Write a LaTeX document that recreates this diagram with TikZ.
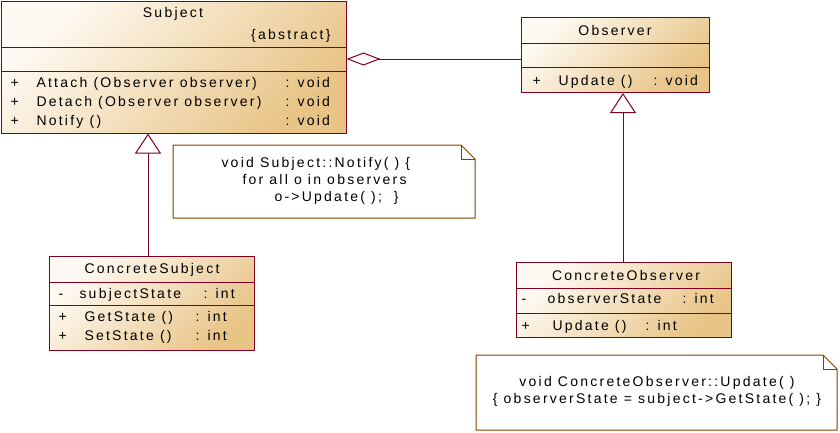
\documentclass[tikz,border=0pt]{standalone}
\usepackage{fontspec}
\setmainfont{Liberation Sans}[LetterSpace=16]
\usetikzlibrary{positioning,arrows.meta}
\definecolor{edge}{RGB}{128,0,32}
\definecolor{paper}{RGB}{254,250,243}
\definecolor{tan}{RGB}{232,196,134}
\definecolor{memo}{RGB}{128,64,0}

\begin{document}
\begin{tikzpicture}[x=1pt,y=-1pt,line width=1pt,
  cls/.style={draw=edge,top color=paper,bottom color=tan,shading angle=45,inner sep=0pt,anchor=north west},
  sep/.style={draw=edge},
  txt/.style={font=\fontsize{14}{17}\selectfont,inner sep=0pt,text=black},
  note/.style={inner sep=0pt,anchor=north west},
  agg/.style={draw=edge,-{Diamond[open,fill=white,length=34pt,width=13pt]}},
  gen/.style={draw=edge,-{Triangle[open,fill=white,length=20pt,width=26pt]}}
]
\useasboundingbox (0,0) rectangle (840,432);

% classes
\node[cls,minimum width=345pt,minimum height=132pt] (subj) at (0.5,0.5) {};
\node[cls,minimum width=188pt,minimum height=75pt] (obs) at (521,17) {};
\node[cls,minimum width=205pt,minimum height=94pt] (csubj) at (49,256) {};
\node[cls,minimum width=215pt,minimum height=75pt] (cobs) at (516,262) {};
\draw[sep] (subj.west |- 0,47) -- (subj.east |- 0,47);
\draw[sep] (subj.west |- 0,71) -- (subj.east |- 0,71);
\draw[sep] (obs.west |- 0,43) -- (obs.east |- 0,43);
\draw[sep] (obs.west |- 0,67) -- (obs.east |- 0,67);
\draw[sep] (csubj.west |- 0,282) -- (csubj.east |- 0,282);
\draw[sep] (csubj.west |- 0,305) -- (csubj.east |- 0,305);
\draw[sep] (cobs.west |- 0,288) -- (cobs.east |- 0,288);
\draw[sep] (cobs.west |- 0,313) -- (cobs.east |- 0,313);

% Subject
\node[txt,anchor=base] (subjname) at (173,17) {Subject};
\node[txt,anchor=base east] (subjabs) at (331,39) {\{abstract\}};
\node[txt,anchor=base west] (subjv1) at (10,87) {+};
\node[txt,anchor=base west] (subjop1) at (36,87) {Attach (Observer observer)};
\node[txt,anchor=base west] (subjt1) at (285,87) {: void};
\node[txt,anchor=base west] (subjv2) at (10,106) {+};
\node[txt,anchor=base west] (subjop2) at (36,106) {Detach (Observer observer)};
\node[txt,anchor=base west] (subjt2) at (285,106) {: void};
\node[txt,anchor=base west] (subjv3) at (10,125) {+};
\node[txt,anchor=base west] (subjop3) at (36,125) {Notify ()};
\node[txt,anchor=base west] (subjt3) at (285,125) {: void};

% Observer
\node[txt,anchor=base] (obsname) at (615,35) {Observer};
\node[txt,anchor=base west] (obsv1) at (532,85) {+};
\node[txt,anchor=base west] (obsop1) at (558,85) {Update ()};
\node[txt,anchor=base west] (obst1) at (653,85) {: void};

% ConcreteSubject
\node[txt,anchor=base] (csubjname) at (152,273) {ConcreteSubject};
\node[txt,anchor=base west] (csubjv1) at (58,298) {-};
\node[txt,anchor=base west] (csubjat1) at (79,298) {subjectState};
\node[txt,anchor=base west] (csubjt1) at (203,298) {: int};
\node[txt,anchor=base west] (csubjv2) at (58,321) {+};
\node[txt,anchor=base west] (csubjop2) at (84,321) {GetState ()};
\node[txt,anchor=base west] (csubjt2) at (195,321) {: int};
\node[txt,anchor=base west] (csubjv3) at (58,340) {+};
\node[txt,anchor=base west] (csubjop3) at (84,340) {SetState ()};
\node[txt,anchor=base west] (csubjt3) at (195,340) {: int};

% ConcreteObserver
\node[txt,anchor=base] (cobsname) at (626,280) {ConcreteObserver};
\node[txt,anchor=base west] (cobsv1) at (521,303) {-};
\node[txt,anchor=base west] (cobsat1) at (547,303) {observerState};
\node[txt,anchor=base west] (cobst1) at (682,303) {: int};
\node[txt,anchor=base west] (cobsv2) at (521,330) {+};
\node[txt,anchor=base west] (cobsop2) at (552,330) {Update ()};
\node[txt,anchor=base west] (cobst2) at (645,330) {: int};

% notes
\node[note,minimum width=301pt,minimum height=72pt] (notify) at (173,145) {};
\draw[memo] (notify.south west) -- (notify.north west) -- ([xshift=-14pt]notify.north east)
  -- ([yshift=-14pt]notify.north east) -- (notify.south east) -- cycle;
\draw[memo] ([xshift=-14pt]notify.north east) |- ([yshift=-14pt]notify.north east);
\node[txt,anchor=north west,align=left] (notifytxt) at (221,157)
  {void Subject::Notify( ) \{\\ \hspace*{21pt}for all o in observers\\ \hspace*{53pt}o->Update( );\hspace{12pt}\}};

\node[note,minimum width=360pt,minimum height=74pt] (update) at (476,355) {};
\draw[memo] (update.south west) -- (update.north west) -- ([xshift=-14pt]update.north east)
  -- ([yshift=-14pt]update.north east) -- (update.south east) -- cycle;
\draw[memo] ([xshift=-14pt]update.north east) |- ([yshift=-14pt]update.north east);
\node[txt,align=center] (updatetxt) at (657,391)
  {void ConcreteObserver::Update( )\\ \{ observerState = subject->GetState( ); \}};

% relations
\draw[agg] (obs.west |- 0,59) -- (subj.east |- 0,59);
\draw[gen] (csubj.north -| 148,0) -- (subj.south -| 148,0);
\draw[gen] (cobs.north -| 623,0) -- (obs.south -| 623,0);
\end{tikzpicture}
\end{document}
